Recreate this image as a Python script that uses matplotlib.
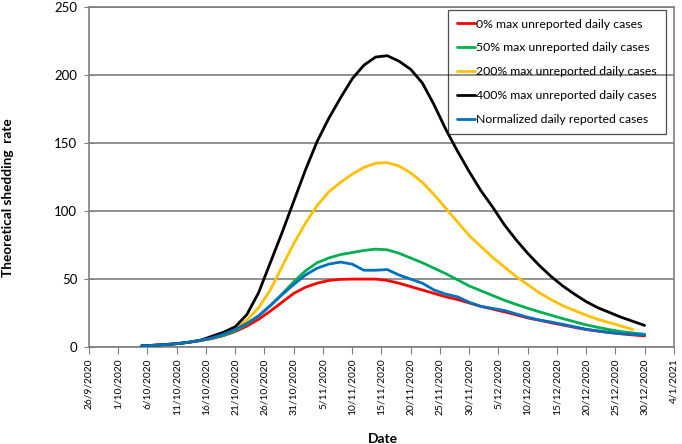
import numpy as np
import pandas as pd
import matplotlib
matplotlib.use("Agg")
import matplotlib.pyplot as plt

plt.rcParams["font.family"] = ["Lato", "DejaVu Sans"]

# values every second day, 5/10/2020 .. 30/12/2020
first_date = "2020-10-05"
last_date = "2020-12-30"

pct0 = [1, 1.4, 1.9, 2.6, 3.5, 4.8, 6.3, 8.5, 11.5, 15.5, 20.5, 26.5, 33, 39.5,
        44, 47, 49, 49.8, 50, 50, 50, 49, 47, 44.5, 42, 39.5, 37, 35, 32.5, 30,
        28, 26, 23.8, 21.5, 19.8, 18, 16.3, 14.6, 13, 11.8, 10.8, 9.8, 9, 8.3]
pct50 = [1, 1.4, 1.9, 2.6, 3.6, 5, 6.5, 8.8, 12, 17, 23, 30.5, 39, 48,
         56, 62, 65.5, 68, 69.5, 71, 72, 71.5, 69, 65.5, 62, 58, 54, 49.5, 45, 41.5,
         38, 34.5, 31.5, 28.6, 26, 23.5, 21, 18.7, 16.4, 14.6, 12.9, 11.5, 10.4, 9.5]
pct200 = [1, 1.4, 1.9, 2.6, 3.6, 5, 7, 10, 13.5, 20, 29, 42, 59, 76,
          91, 104, 114, 121, 127, 132, 135, 135.5, 133, 128, 121, 112, 102, 92, 82, 74,
          66, 59, 52, 46, 40, 35, 30.5, 27, 23.5, 20.5, 18, 15.5, 13, np.nan]
pct400 = [1, 1.4, 1.9, 2.6, 3.6, 5, 8, 11, 15, 24, 40, 62, 84, 107,
          130, 151, 168, 183, 197, 207, 213, 214, 210, 204, 194, 178, 160, 144, 129, 115,
          103, 90, 79, 69, 60, 52, 45, 39, 33.5, 29, 25.5, 22, 19, 16]
reported = [1, 1.4, 1.9, 2.6, 3.6, 5, 6.8, 9.5, 13, 17.5, 23, 30.5, 38.5, 46,
            53, 58, 61, 62.5, 61, 56.5, 56.5, 57, 53, 50, 47, 42, 39, 37, 33, 30,
            28.5, 27, 24.5, 22, 20, 18.5, 16.8, 15, 13.2, 12, 10.8, 10, 9.5, 9]

series = [
    ("0% max unreported daily cases", pct0, "#ff0000"),
    ("50% max unreported daily cases", pct50, "#00b050"),
    ("200% max unreported daily cases", pct200, "#ffc000"),
    ("400% max unreported daily cases", pct400, "#000000"),
    ("Normalized daily reported cases", reported, "#0070c0"),
]

x = pd.date_range(first_date, last_date, freq="2D")

fig = plt.figure(figsize=(6.82, 4.44), dpi=100)
ax = fig.add_axes([0.1305, 0.218, 0.8575, 0.767])

grid_color = "#7f7f7f"

for label, vals, color in series:
    ax.plot(x, vals, color=color, lw=2.0, label=label, zorder=3,
            solid_joinstyle="round", solid_capstyle="round")

start = pd.Timestamp("2020-09-26")
end = pd.Timestamp("2021-01-04")
ax.set_xlim(start, end)
ax.set_ylim(0, 250)

xticks = pd.date_range(start, end, freq="5D")
ax.set_xticks(xticks)
ax.set_xticklabels([f"{d.day}/{d.month}/{d.year}" for d in xticks],
                   rotation=90, fontsize=7.4)
ax.set_yticks(np.arange(0, 251, 50))
ax.tick_params(axis="y", labelsize=9.5, direction="inout", length=7,
               color=grid_color, pad=5)
ax.tick_params(axis="x", direction="out", length=5, color=grid_color, pad=3)

ax.grid(axis="y", color=grid_color, lw=1.2)
ax.set_axisbelow(True)
for s in ax.spines.values():
    s.set_color(grid_color)
    s.set_linewidth(1.2)

ax.set_xlabel("Date", fontsize=10, fontweight="bold")
ax.xaxis.set_label_coords(0.503, -0.252)
ax.set_ylabel("Theoretical shedding  rate", fontsize=9.8, fontweight="bold")
ax.yaxis.set_label_coords(-0.128, 0.44)

leg = ax.legend(loc="upper right", bbox_to_anchor=(0.986, 0.99), fontsize=8.8,
                handlelength=1.5, handletextpad=0.1, labelspacing=1.05,
                borderpad=0.7, borderaxespad=0, fancybox=False)
frame = leg.get_frame()
frame.set_facecolor("none")
frame.set_edgecolor("#222222")
frame.set_linewidth(0.9)
for h in leg.legend_handles:
    h.set_linewidth(2)

fig.savefig("out.png", dpi=100)
